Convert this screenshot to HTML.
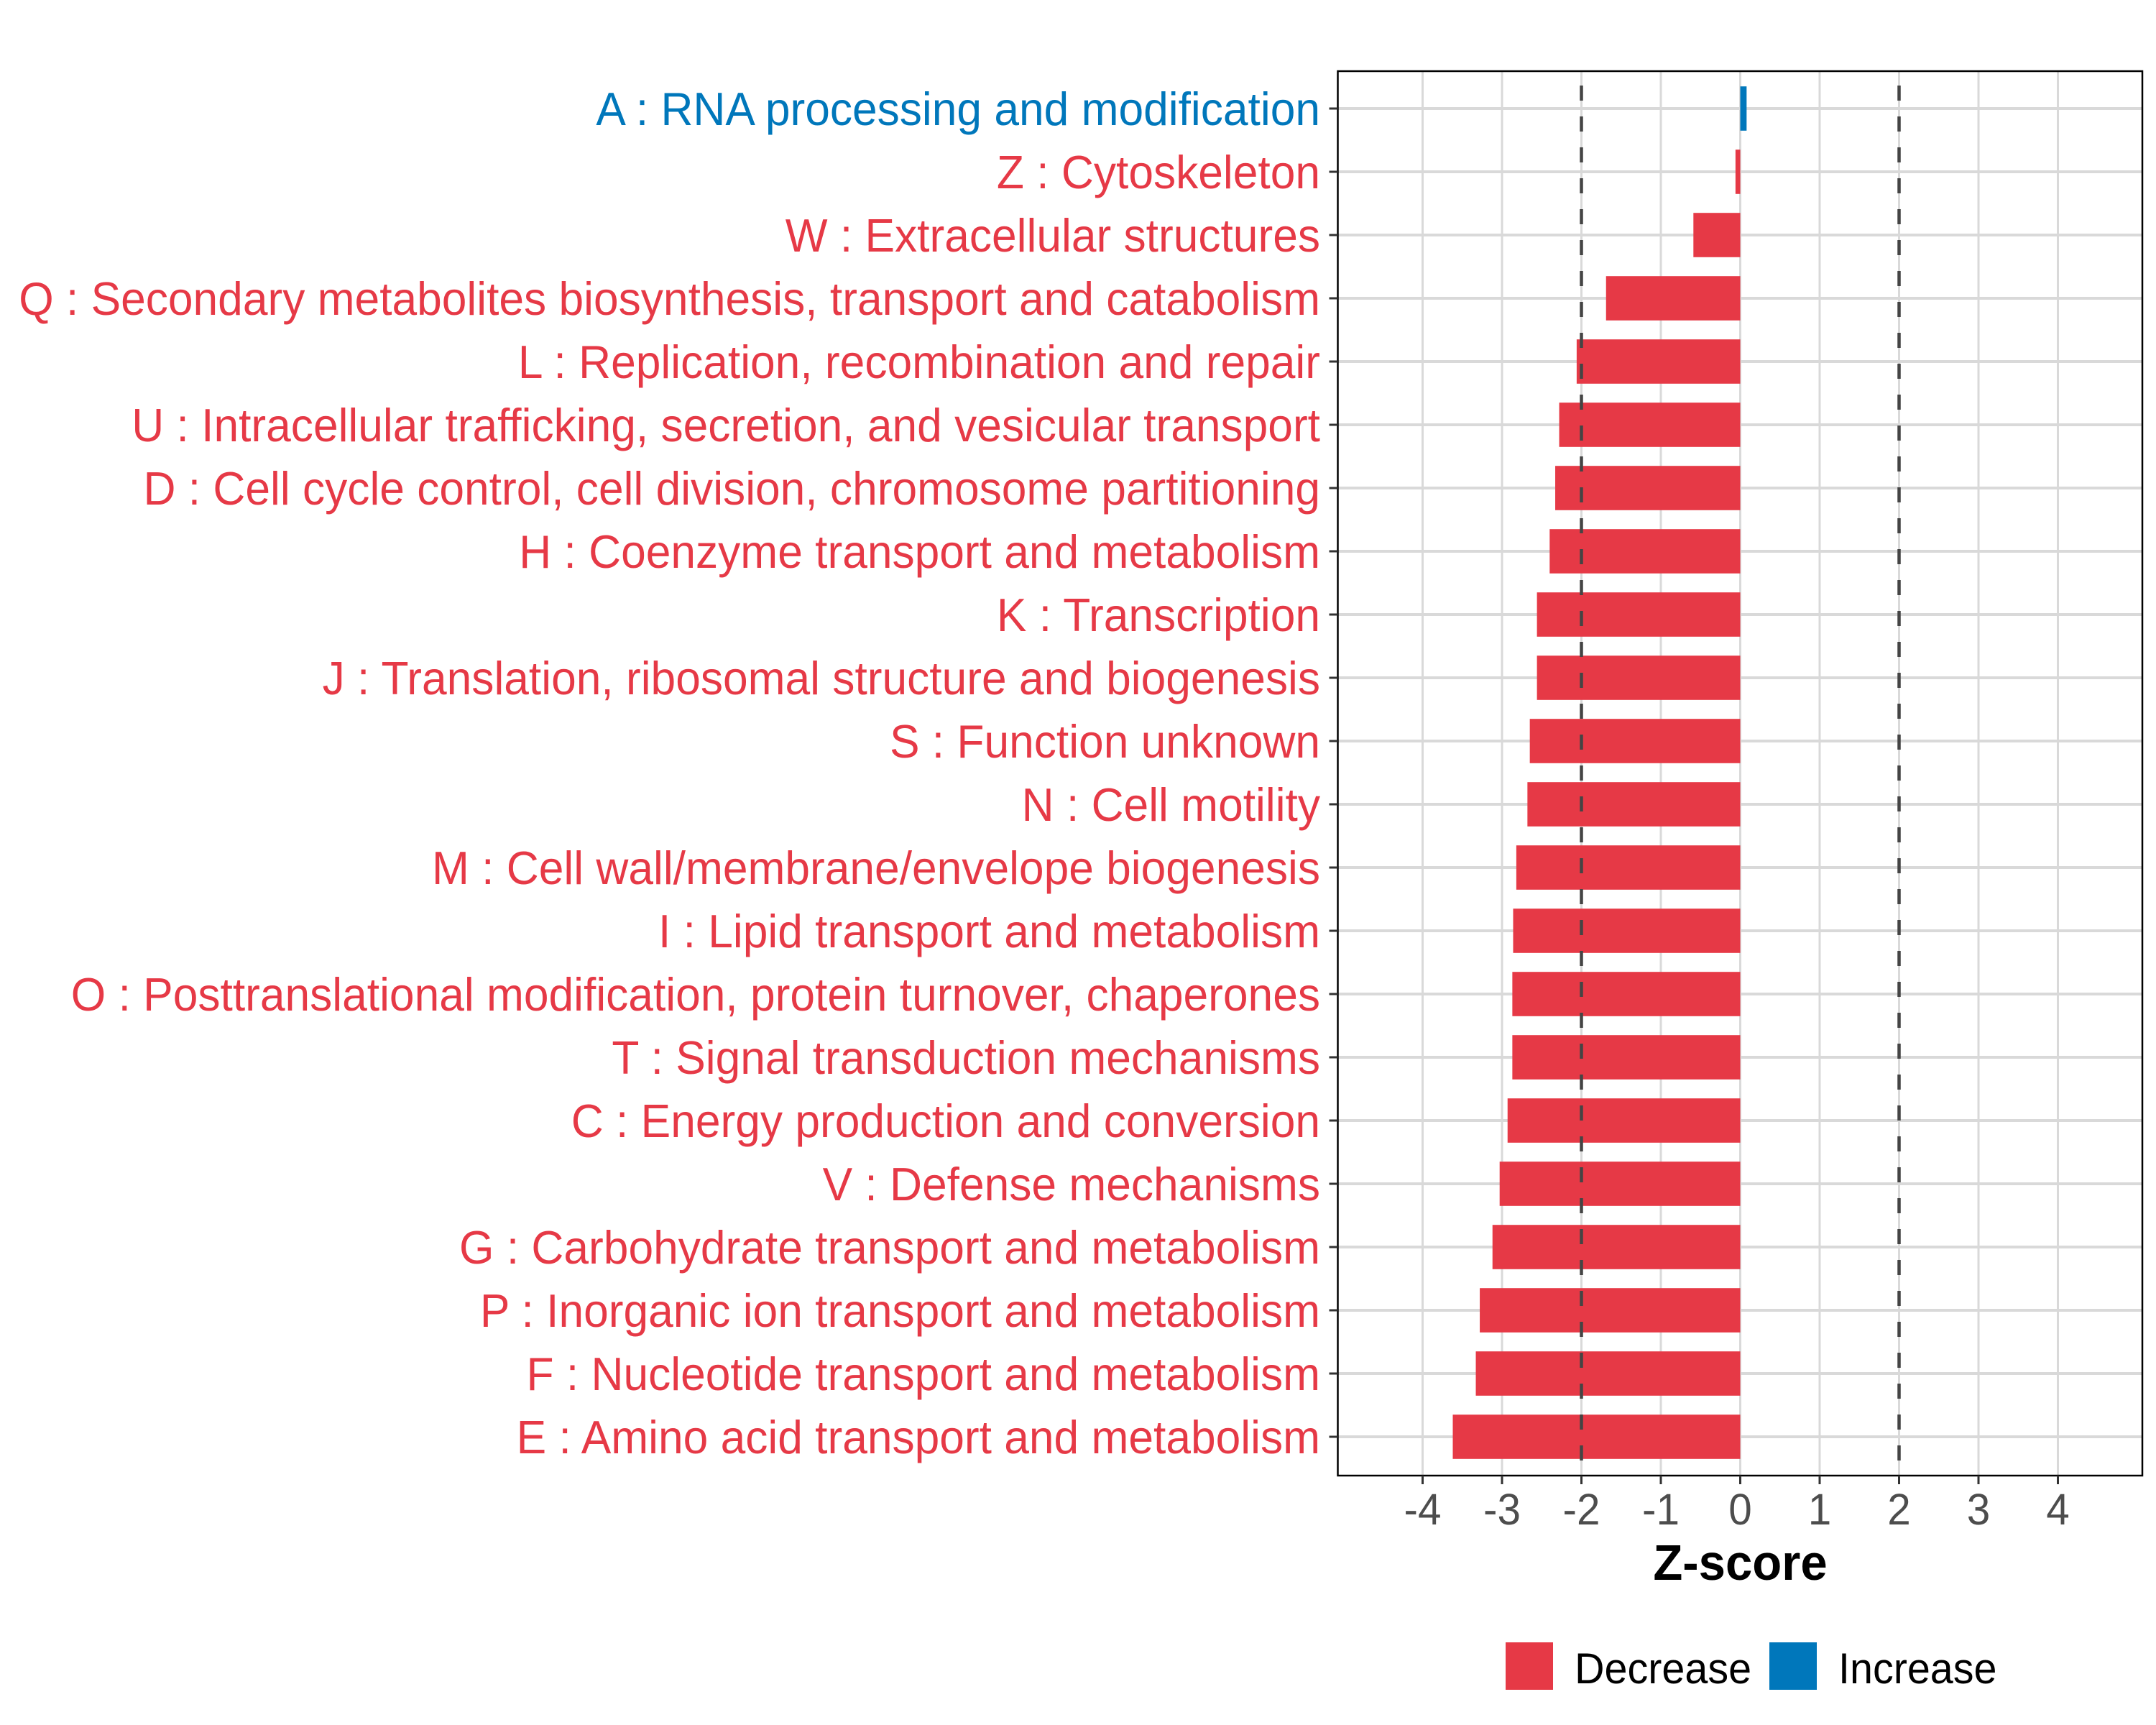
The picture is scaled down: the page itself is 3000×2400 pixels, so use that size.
<!DOCTYPE html>
<html><head><meta charset="utf-8"><style>html,body{margin:0;padding:0;background:#fff}svg{display:block}</style></head>
<body>
<svg id="chart" width="3000" height="2400" viewBox="0 0 3000 2400" xmlns="http://www.w3.org/2000/svg" font-family="'Liberation Sans', Arial, sans-serif">
<rect width="3000" height="2400" fill="#fff"/>
<g id="grid"></g>
<g id="bars"></g>
<g id="ref"></g>
<rect x="1861.5" y="99" width="1119.5" height="1954" fill="none" stroke="#000" stroke-width="2.5"/>
<g id="ylabels"></g>
<g id="xticks"></g>
<text x="2421.5" y="2198" text-anchor="middle" font-size="70" font-weight="bold" fill="#000" id="xtitle">Z-score</text>
<g>
<rect x="2095" y="2285" width="66" height="66" fill="#E63946"/>
<text class="lg" x="2191" y="2342" font-size="60" fill="#000">Decrease</text>
<rect x="2462" y="2285" width="66" height="66" fill="#0077BB"/>
<text class="lg" x="2558" y="2342" font-size="60" fill="#000">Increase</text>
</g>
</svg>
<script>
const categories = ["A : RNA processing and modification","Z : Cytoskeleton","W : Extracellular structures","Q : Secondary metabolites biosynthesis, transport and catabolism","L : Replication, recombination and repair","U : Intracellular trafficking, secretion, and vesicular transport","D : Cell cycle control, cell division, chromosome partitioning","H : Coenzyme transport and metabolism","K : Transcription","J : Translation, ribosomal structure and biogenesis","S : Function unknown","N : Cell motility","M : Cell wall/membrane/envelope biogenesis","I : Lipid transport and metabolism","O : Posttranslational modification, protein turnover, chaperones","T : Signal transduction mechanisms","C : Energy production and conversion","V : Defense mechanisms","G : Carbohydrate transport and metabolism","P : Inorganic ion transport and metabolism","F : Nucleotide transport and metabolism","E : Amino acid transport and metabolism"];
const zscores = [0.08,-0.06,-0.59,-1.69,-2.06,-2.28,-2.33,-2.4,-2.56,-2.56,-2.65,-2.68,-2.82,-2.86,-2.87,-2.87,-2.93,-3.03,-3.12,-3.28,-3.33,-3.62];
const xTicks = [-4,-3,-2,-1,0,1,2,3,4];
const xTickLabels = ["-4","-3","-2","-1","0","1","2","3","4"];
const thresholds = [-2,2];

const NS='http://www.w3.org/2000/svg';
const X0=2421.5, UNIT=110.5, Y0=151, STEP=88, TOP=99, BOT=2053, LEFT=1861.5, RIGHT=2981;
const RED='#E63946', BLUE='#0077BB';
const xs=v=>X0+v*UNIT;
const ys=i=>Y0+i*STEP;
function mk(tag,attrs,parent){const e=document.createElementNS(NS,tag);for(const k in attrs)e.setAttribute(k,attrs[k]);parent.appendChild(e);return e;}
const grid=document.getElementById('grid'),bars=document.getElementById('bars'),ref=document.getElementById('ref'),yl=document.getElementById('ylabels'),xt=document.getElementById('xticks');
xTicks.forEach((t,i)=>{
  const g=mk('line',{x1:xs(t),x2:xs(t),y1:TOP,y2:BOT,stroke:'#d9d9d9','stroke-width':3},grid);
  
  
  const tk=mk('line',{x1:xs(t),x2:xs(t),y1:BOT,y2:BOT+12,stroke:'#333','stroke-width':3},xt);
  
  
  const tx=mk('text',{x:xs(t),y:2121,'text-anchor':'middle','font-size':61,fill:'#4d4d4d',class:'tk'},xt);
  tx.textContent=xTickLabels[i];
  
  
});
categories.forEach((c,i)=>{
  const y=ys(i);
  const gl=mk('line',{x1:LEFT,x2:RIGHT,y1:y,y2:y,stroke:'#d9d9d9','stroke-width':4},grid);
  
  
  const v=zscores[i];
  const b=mk('rect',{x:Math.min(xs(0),xs(v)),y:y-STEP*0.35,width:Math.abs(xs(v)-xs(0)),height:STEP*0.7,fill:v>=0?BLUE:RED},bars);
  
  
  const tk=mk('line',{x1:LEFT-12,x2:LEFT,y1:y,y2:y,stroke:'#333','stroke-width':3},yl);
  
  
  const t=mk('text',{x:1837,y:y+23,'text-anchor':'end','font-size':65,fill:v>=0?BLUE:RED,class:'yl'},yl);
  t.textContent=c;
  
  
});
thresholds.forEach(t=>{
  const l=mk('line',{x1:xs(t),x2:xs(t),y1:TOP,y2:BOT,stroke:'#444','stroke-width':4.5,'stroke-dasharray':'21 22','stroke-dashoffset':'-20'},ref);
  
  
});
// horizontally condense text to match reference font metrics
const q=yl.querySelectorAll('text.yl')[3];
const sc=Math.min(1,1811/q.getComputedTextLength());
function squeeze(el,anchorX){el.setAttribute('transform',`translate(${anchorX} 0) scale(${sc} 1) translate(${-anchorX} 0)`);}
yl.querySelectorAll('text.yl').forEach(e=>squeeze(e,1837));
xt.querySelectorAll('text.tk').forEach(e=>squeeze(e,+e.getAttribute('x')));
document.querySelectorAll('text.lg').forEach(e=>squeeze(e,+e.getAttribute('x')));
squeeze(document.getElementById('xtitle'),2421.5);
</script>
</body></html>
